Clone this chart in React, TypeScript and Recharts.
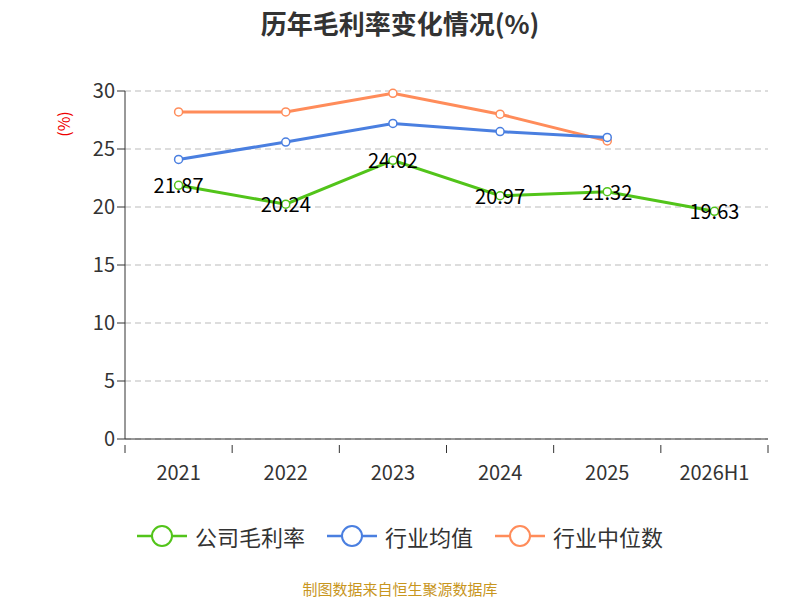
import { LineChart, Line, XAxis, YAxis, CartesianGrid, LabelList } from "recharts";

const years = ["2021", "2022", "2023", "2024", "2025", "2026H1"];
const company = [21.87, 20.24, 24.02, 20.97, 21.32, 19.63];
const industryAvg = [24.1, 25.6, 27.2, 26.5, 26.0, null];
const industryMedian = [28.2, 28.2, 29.8, 28.0, 25.7, null];
const yTicks = [0, 5, 10, 15, 20, 25, 30];

const data = years.map((y, i) => ({
  year: y,
  company: company[i],
  avg: industryAvg[i],
  median: industryMedian[i],
}));

const BAND = 643 / 6;

const XTick = (props: any) => {
  const { x, y, payload, index } = props;
  return (
    <g>
      <line x1={x - BAND / 2} x2={x - BAND / 2} y1={y - 2} y2={y + 6} stroke="#333" />
      {index === years.length - 1 && (
        <line x1={x + BAND / 2} x2={x + BAND / 2} y1={y - 2} y2={y + 6} stroke="#333" />
      )}
      <text x={x} y={y + 33} textAnchor="middle" fontSize={20} fill="#333">
        {payload.value}
      </text>
    </g>
  );
};

const legend = [
  { label: "公司毛利率", color: "#52c41a" },
  { label: "行业均值", color: "#4a7fe0" },
  { label: "行业中位数", color: "#ff8c5a" },
];

export default function App() {
  return (
    <div style={{ position: "absolute", left: 0, top: 0, width: 800, height: 600, background: "#fff", fontFamily: "'Noto Sans CJK SC', 'Noto Sans', sans-serif" }}>
      <div style={{ position: "absolute", top: 4, width: 800, textAlign: "center", fontSize: 26, fontWeight: "bold", color: "#333" }}>
        历年毛利率变化情况(%)
      </div>
      <div style={{ position: "absolute", left: 50, top: 112, transform: "rotate(-90deg)", color: "#e00", fontSize: 16 }}>(%)</div>
      <LineChart width={800} height={600} data={data} margin={{ top: 91, right: 32, bottom: 131, left: 75 }}>
        <CartesianGrid vertical={false} stroke="#bbb" strokeDasharray="6 4" />
        <XAxis dataKey="year" scale="band" height={30} stroke="#333" tickLine={false} tick={<XTick />} interval={0} />
        <YAxis width={50} domain={[0, 30]} ticks={yTicks} stroke="#333" tick={{ fontSize: 20, fill: "#333" }} tickSize={8} />
        <Line dataKey="median" stroke="#ff8c5a" strokeWidth={3} dot={{ r: 4, fill: "#fff", strokeWidth: 1.5 }} isAnimationActive={false} />
        <Line dataKey="avg" stroke="#4a7fe0" strokeWidth={3} dot={{ r: 4, fill: "#fff", strokeWidth: 1.5 }} isAnimationActive={false} />
        <Line dataKey="company" stroke="#52c41a" strokeWidth={3} dot={{ r: 4, fill: "#fff", strokeWidth: 1.5 }} isAnimationActive={false}>
          <LabelList
            dataKey="company"
            content={(p: any) => (
              <text x={p.x} y={p.y + 8} textAnchor="middle" fontSize={20} fill="#000">
                {p.value.toFixed(2)}
              </text>
            )}
          />
        </Line>
      </LineChart>
      <div style={{ position: "absolute", top: 520, width: 800, display: "flex", justifyContent: "center", gap: 22, fontSize: 22, color: "#333" }}>
        {legend.map((l) => (
          <div key={l.label} style={{ display: "flex", alignItems: "center", gap: 8 }}>
            <svg width={50} height={30}>
              <line x1={0} x2={50} y1={15} y2={15} stroke={l.color} strokeWidth={2.5} />
              <circle cx={25} cy={15} r={10} fill="#fff" stroke={l.color} strokeWidth={2} />
            </svg>
            <span>{l.label}</span>
          </div>
        ))}
      </div>
      <div style={{ position: "absolute", top: 578, width: 800, textAlign: "center", fontSize: 15, color: "#c8961e" }}>
        制图数据来自恒生聚源数据库
      </div>
    </div>
  );
}
